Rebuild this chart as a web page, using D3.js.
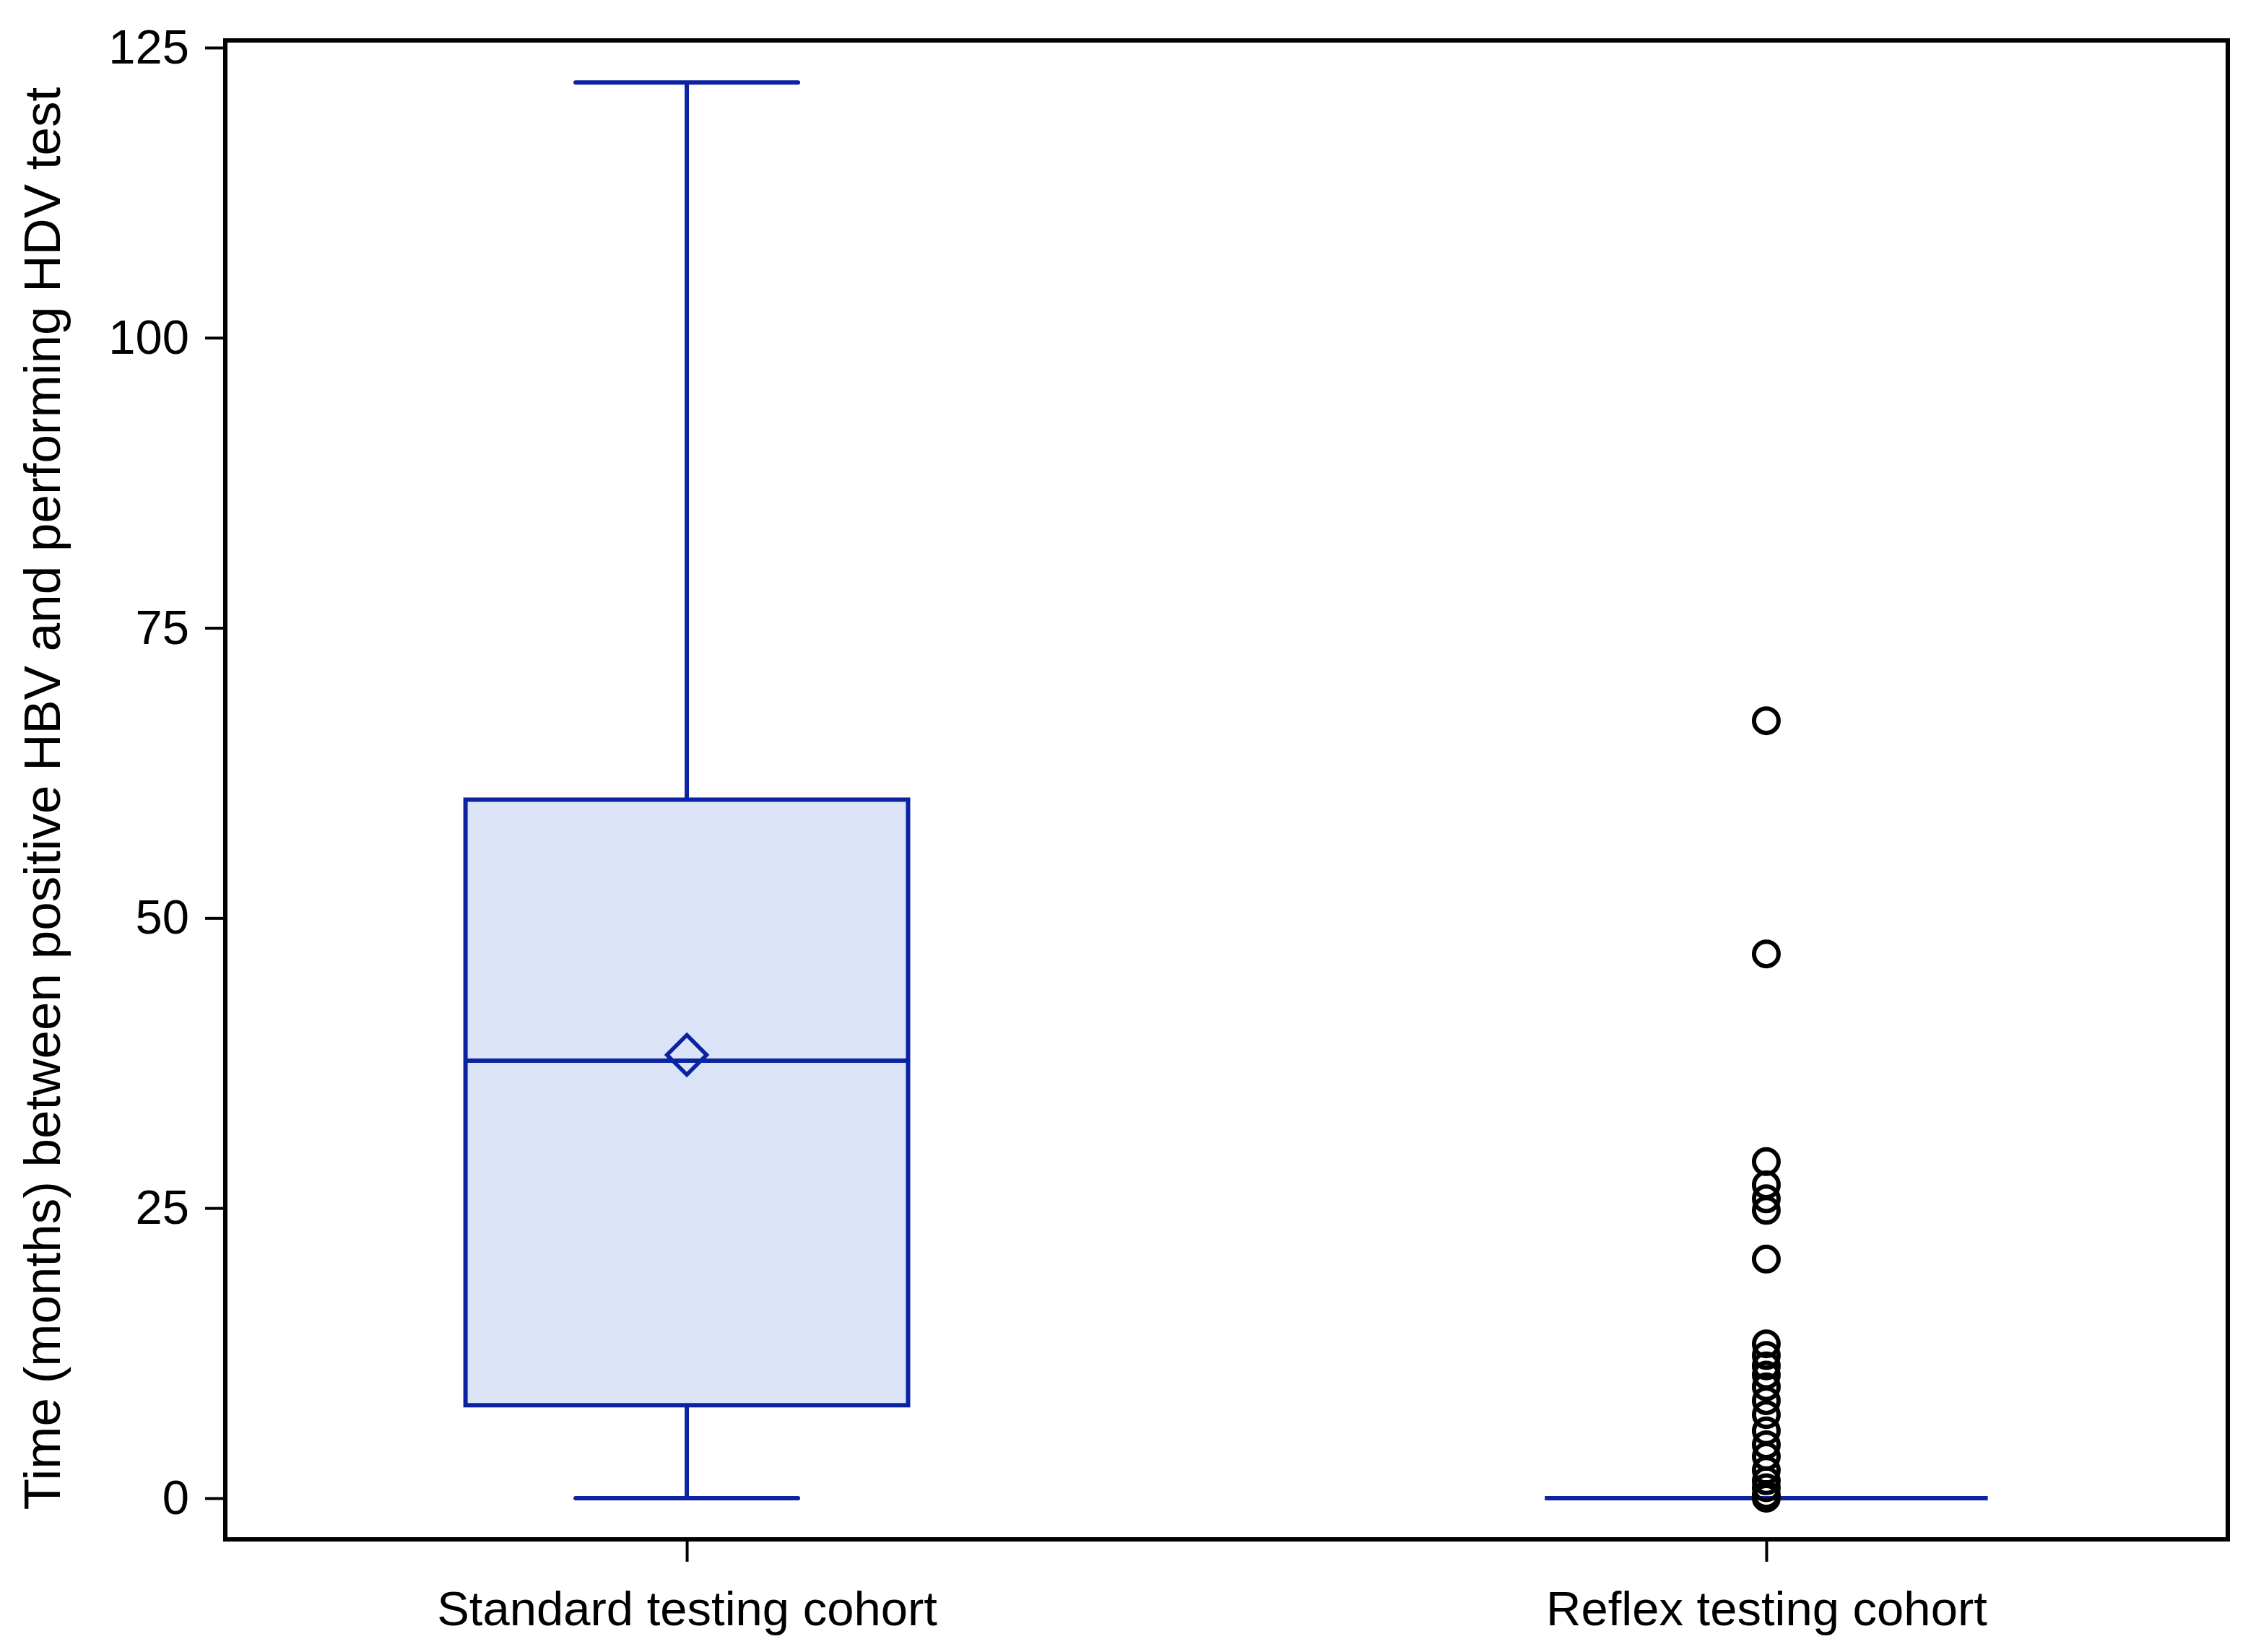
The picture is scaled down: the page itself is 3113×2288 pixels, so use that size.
<!DOCTYPE html>
<html>
<head>
<meta charset="utf-8">
<script src="https://cdn.jsdelivr.net/npm/d3@7"></script>
<style>
  html, body { margin: 0; padding: 0; background: #ffffff; }
  svg { display: block; }
  text { font-family: "Liberation Sans", Arial, Helvetica, sans-serif; fill: #000; }
</style>
</head>
<body>
<script>
// ---- data ----
const categories = ["Standard testing cohort", "Reflex testing cohort"];
const minValues    = [0, 0];
const q1Values     = [8.0, 0];
const medianValues = [37.7, 0];
const q3Values     = [60.2, 0];
const maxValues    = [122.0, 0];
const meanValues   = [38.2, null];
const reflexOutliers = [67.0, 46.9, 29.0, 27.0, 25.8, 24.8, 20.6, 13.3, 12.3, 11.4, 10.6,
                        9.6, 8.4, 7.2, 5.8, 4.6, 3.6, 2.4, 1.5, 0.9, 0.3, 0];
const outliers = [[], reflexOutliers];
const yTicks = [0, 25, 50, 75, 100, 125];
const yTitle = "Time (months) between positive HBV and performing HDV test";

// ---- layout ----
const W = 3113, H = 2288;
const plot = { left: 312, right: 3085, top: 56, bottom: 2132 };
const blue = "#0b22a3", fillBlue = "#dae4f6";

const svg = d3.select("body").append("svg").attr("width", W).attr("height", H);
svg.append("rect").attr("width", W).attr("height", H).attr("fill", "#ffffff");

const x = d3.scalePoint().domain(categories).range([plot.left, plot.right]).padding(0.4275);
const y = d3.scaleLinear().domain([-3.55, 125.62]).range([plot.bottom, plot.top]);
const step = x.step();
const boxHalf = step * 0.205;
const capHalf = step * 0.103;
const sw = 6;

const stats = categories.map((c, i) => ({
  cat: c, min: minValues[i], q1: q1Values[i], med: medianValues[i], q3: q3Values[i],
  max: maxValues[i], mean: meanValues[i], out: outliers[i]
}));

const g = svg.append("g");
const groups = g.selectAll("g.box").data(stats).join("g").attr("class", "box");

// whiskers
groups.append("line")
  .attr("x1", d => x(d.cat)).attr("x2", d => x(d.cat))
  .attr("y1", d => y(d.q3)).attr("y2", d => y(d.max))
  .attr("stroke", blue).attr("stroke-width", sw);
groups.append("line")
  .attr("x1", d => x(d.cat)).attr("x2", d => x(d.cat))
  .attr("y1", d => y(d.q1)).attr("y2", d => y(d.min))
  .attr("stroke", blue).attr("stroke-width", sw);
// caps
["max", "min"].forEach(k => {
  groups.append("line")
    .attr("x1", d => x(d.cat) - capHalf).attr("x2", d => x(d.cat) + capHalf)
    .attr("y1", d => y(d[k])).attr("y2", d => y(d[k]))
    .attr("stroke", blue).attr("stroke-width", sw).attr("stroke-linecap", "round");
});
// box (path, so a zero-height box still shows as a line)
groups.append("path")
  .attr("d", d => {
    const x0 = x(d.cat) - boxHalf, x1 = x(d.cat) + boxHalf;
    return `M${x0},${y(d.q3)}H${x1}V${y(d.q1)}H${x0}Z`;
  })
  .attr("fill", fillBlue).attr("stroke", blue).attr("stroke-width", sw)
  .attr("stroke-linejoin", "miter").attr("stroke-linecap", "round");
// median
groups.append("line")
  .attr("x1", d => x(d.cat) - boxHalf).attr("x2", d => x(d.cat) + boxHalf)
  .attr("y1", d => y(d.med)).attr("y2", d => y(d.med))
  .attr("stroke", blue).attr("stroke-width", sw);
// mean diamond
groups.filter(d => d.mean !== null).append("path")
  .attr("d", d3.symbol().type(d3.symbolDiamond2).size(2 * 31 * 31))
  .attr("transform", d => `translate(${x(d.cat)},${y(d.mean)})`)
  .attr("fill", "none").attr("stroke", blue).attr("stroke-width", 5.5);

// outliers
groups.selectAll("circle.out").data(d => d.out.map(v => ({ cat: d.cat, v })))
  .join("circle").attr("class", "out")
  .attr("cx", d => x(d.cat)).attr("cy", d => y(d.v)).attr("r", 17)
  .attr("fill", "none").attr("stroke", "#000").attr("stroke-width", 6);

// frame
svg.append("rect")
  .attr("x", plot.left).attr("y", plot.top)
  .attr("width", plot.right - plot.left).attr("height", plot.bottom - plot.top)
  .attr("fill", "none").attr("stroke", "#000").attr("stroke-width", 6);

// y axis
const yAxis = svg.append("g").attr("transform", `translate(${plot.left},0)`)
  .call(d3.axisLeft(y).tickValues(yTicks).tickSize(28).tickPadding(22).tickFormat(d3.format("d")));
yAxis.select(".domain").remove();
yAxis.selectAll(".tick line").attr("stroke", "#000").attr("stroke-width", 4);
yAxis.selectAll(".tick text").style("font-size", "67px").attr("fill", "#000")
  .style("font-family", '"Liberation Sans", Arial, sans-serif');

// x axis
const xAxis = svg.append("g").attr("transform", `translate(0,${plot.bottom})`)
  .call(d3.axisBottom(x).tickSize(31).tickPadding(0));
xAxis.select(".domain").remove();
xAxis.selectAll(".tick line").attr("stroke", "#000").attr("stroke-width", 4);
xAxis.selectAll(".tick text").style("font-size", "67px").attr("fill", "#000")
  .attr("dy", null).attr("y", 119)
  .style("font-family", '"Liberation Sans", Arial, sans-serif');

// y title
svg.append("text")
  .attr("transform", `translate(83,${(plot.top + plot.bottom) / 2 + 12}) rotate(-90)`)
  .attr("text-anchor", "middle")
  .style("font-size", "71px")
  .text(yTitle);
</script>
</body>
</html>
